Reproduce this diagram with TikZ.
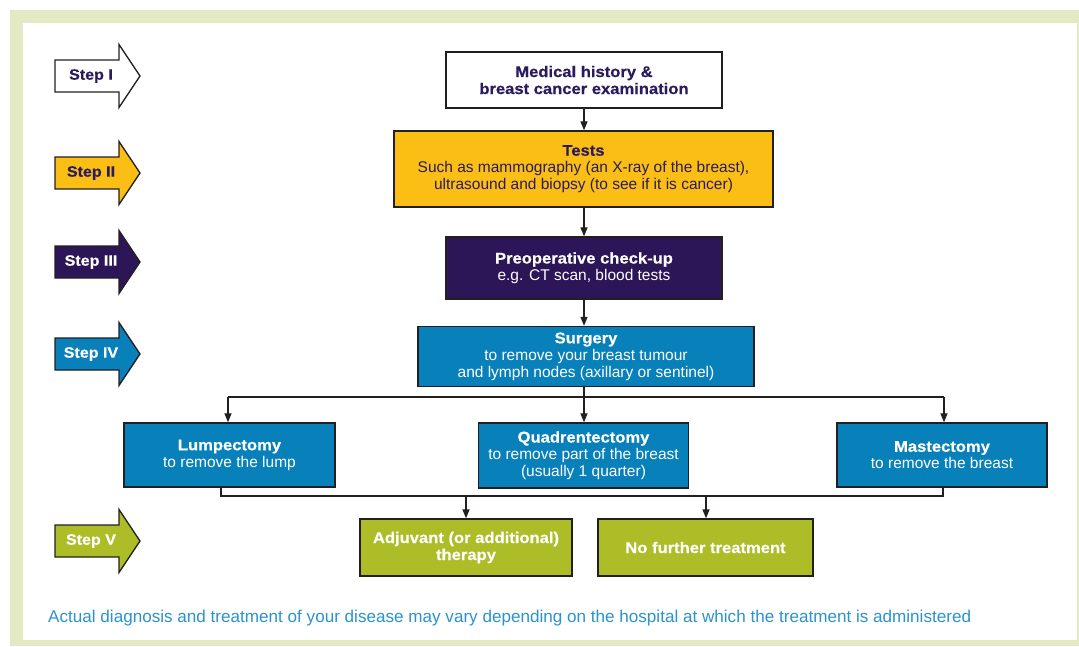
\documentclass[tikz,border=0pt]{standalone}
\usepackage{fontspec}
\setmainfont{Liberation Sans}[BoldFeatures={FakeStretch=1.07,FakeBold=0.5}]
\usetikzlibrary{arrows.meta}
\definecolor{framegreen}{HTML}{E3E9C3}
\definecolor{darkpurple}{HTML}{2B1B5E}
\definecolor{purplefill}{HTML}{2D1658}
\definecolor{yellowfill}{HTML}{FBBE14}
\definecolor{bluefill}{HTML}{0880B9}
\definecolor{greenfill}{HTML}{ACBD27}
\definecolor{footblue}{HTML}{2B93CE}
\definecolor{linec}{HTML}{231F20}
\newcommand\StepArrow[5]{%
  \draw[steparrow, fill=#3] (55,#2-16) -- (119,#2-16) -- (119,#2-31.5) -- (140,#2) -- (119,#2+31.5) -- (119,#2+16) -- (55,#2+16) -- cycle;
  \node[steptext, text=#4] (#1) at (91,#2) {#5};
}
\begin{document}
\begin{tikzpicture}[x=1pt,y=-1pt,
  box/.style={draw=linec, line width=1.4pt, inner sep=0pt, align=center,
    font=\fontsize{15.5}{17}\selectfont},
  steparrow/.style={draw=linec, line width=1.3pt, line join=miter},
  steptext/.style={inner sep=0pt, font=\fontsize{15}{16}\selectfont\bfseries},
  conn/.style={draw=linec, line width=1.3pt},
  arr/.style={conn, -{Triangle[length=9pt,width=7pt]}}]
\useasboundingbox (0,0) rectangle (1079,646);
\fill[framegreen] (10,10) rectangle (1079,646);
\fill[white] (23,23) rectangle (1077,640);

% step arrows
\StepArrow{s1}{76}{white}{darkpurple}{Step I}
\StepArrow{s2}{173}{yellowfill}{darkpurple}{Step II}
\StepArrow{s3}{262}{purplefill}{white}{Step III}
\StepArrow{s4}{354}{bluefill}{white}{Step IV}
\StepArrow{s5}{541}{greenfill}{white}{Step V}

% boxes
\node[box, fill=white, text=darkpurple, minimum width=276pt, minimum height=56pt] (med) at (584,80)
  {\bfseries Medical history \&\\\bfseries breast cancer examination};
\node[box, fill=yellowfill, text=darkpurple, minimum width=379pt, minimum height=76pt] (tests) at (583.5,169)
  {\bfseries Tests\\Such as mammography (an X-ray of the breast),\\ultrasound and biopsy (to see if it is cancer)};
\node[box, fill=purplefill, text=white, minimum width=276pt, minimum height=62pt] (preop) at (584,268)
  {\bfseries Preoperative check-up\\e.g. CT scan, blood tests};
\node[box, fill=bluefill, text=white, minimum width=336pt, minimum height=60pt] (surg) at (586,356.5)
  {\bfseries Surgery\\to remove your breast tumour\\and lymph nodes (axillary or sentinel)};
\node[box, fill=bluefill, text=white, minimum width=211pt, minimum height=64pt] (lump) at (229.5,455)
  {\bfseries Lumpectomy\\to remove the lump};
\node[box, fill=bluefill, text=white, minimum width=210pt, minimum height=65pt] (quad) at (583.5,455.5)
  {\bfseries Quadrentectomy\\to remove part of the breast\\(usually 1 quarter)};
\node[box, fill=bluefill, text=white, minimum width=210pt, minimum height=64pt] (mast) at (942,455)
  {\bfseries Mastectomy\\to remove the breast};
\node[box, fill=greenfill, text=white, minimum width=212pt, minimum height=57pt] (adj) at (466,547.5)
  {\bfseries Adjuvant (or additional)\\\bfseries therapy};
\node[box, fill=greenfill, text=white, minimum width=215pt, minimum height=57pt] (nof) at (705.5,547.5)
  {\bfseries No further treatment};

% connectors
\draw[arr] (med.south -| 584,0) -- (tests.north -| 584,0);
\draw[arr] (tests.south -| 584,0) -- (preop.north -| 584,0);
\draw[arr] (preop.south -| 584,0) -- (surg.north -| 584,0);
\coordinate (brl) at (228,397);
\coordinate (brr) at (944,397);
\draw[arr] (surg.south -| 584,0) -- (quad.north -| 584,0);
\draw[conn] (brl) -- (brr);
\draw[arr] (brl) -- (lump.north -| brl);
\draw[arr] (brr) -- (mast.north -| brr);
\coordinate (jl) at (221,496);
\coordinate (jr) at (943,496);
\coordinate (jn) at (706,496);
\draw[conn] (lump.south -| jl) -- (jl) -- (jr) -- (mast.south -| jr);
\draw[arr] (adj.north |- jl) -- (adj.north);
\draw[arr] (jn) -- (nof.north -| jn);

% footer
\node[anchor=base west, inner sep=0pt, text=footblue, font=\fontsize{17.1}{18}\selectfont] (foot) at (48,622)
  {Actual diagnosis and treatment of your disease may vary depending on the hospital at which the treatment is administered};
\end{tikzpicture}
\end{document}
